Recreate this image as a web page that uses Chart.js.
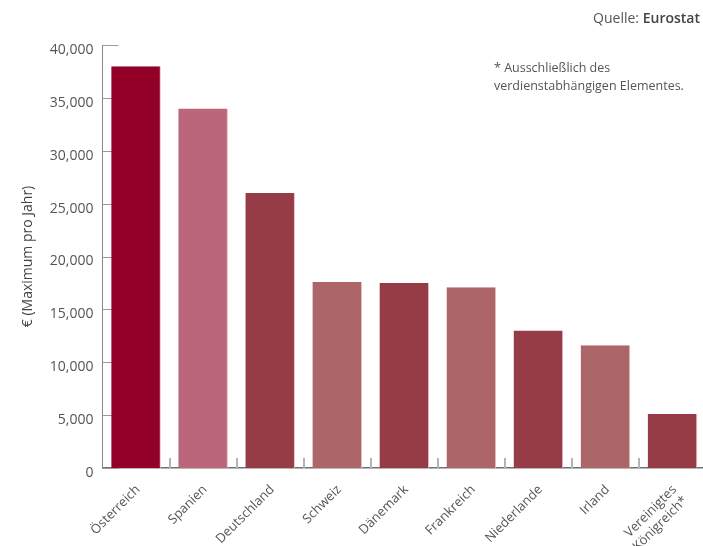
<!DOCTYPE html>
<html lang="de">
<head>
<meta charset="utf-8">
<title>Höchstbeiträge</title>
<script src="https://cdn.jsdelivr.net/npm/chart.js@4"></script>
<style>
    body { margin: 0; background: #fff; overflow: hidden; }
    #wrap { position: relative; width: 703px; height: 546px; overflow: hidden; }
    .source { position: absolute; right: 3px; top: 8px; font: 14px 'Open Sans', sans-serif; color: #555; }
    .source b { color: #444; font-weight: 600; }
    .note { position: absolute; left: 494px; top: 59px; font: 12.5px/18px 'Open Sans', sans-serif; color: #555; }
</style>
</head>
<body>
<div id="wrap">
    <canvas id="chart"></canvas>
    <div class="source">Quelle: <b>Eurostat</b></div>
    <div class="note">* Ausschließlich des<br>verdienstabhängigen Elementes.</div>
</div>
<script>
// Countries and yearly maximum (EUR)
const countries = ['Österreich', 'Spanien', 'Deutschland', 'Schweiz', 'Dänemark',
    'Frankreich', 'Niederlande', 'Irland', ['Vereinigtes', 'Königreich*']];
const maxPerYear = [38000, 34000, 26000, 17600, 17500, 17100, 13000, 11600, 5100];
const barColors = ['#920028', '#bb667a', '#963c46', '#ad6668', '#963c46',
    '#ad6668', '#963c46', '#ad6668', '#963c46'];
const yTicks = [0, 5000, 10000, 15000, 20000, 25000, 30000, 35000, 40000];

Chart.defaults.font.family = "'Open Sans', sans-serif";
Chart.defaults.color = '#555';

// short tick marks drawn inside the plot, under the bars
const innerTicks = {
    id: 'innerTicks',
    beforeDatasetsDraw(chart) {
        const { ctx, scales: { x, y } } = chart;
        ctx.save();
        ctx.strokeStyle = '#9a9a9a';
        ctx.lineWidth = 1;
        y.ticks.forEach((t, i) => {
            const py = Math.round(y.getPixelForTick(i)) + 0.5;
            ctx.beginPath();
            ctx.moveTo(x.left, py);
            ctx.lineTo(x.left + 16, py);
            ctx.stroke();
        });
        ctx.strokeStyle = '#b4b4b4';
        ctx.lineWidth = 2;
        for (let i = 1; i < countries.length; i++) {
            const px = Math.round((x.getPixelForTick(i - 1) + x.getPixelForTick(i)) / 2);
            ctx.beginPath();
            ctx.moveTo(px, y.bottom);
            ctx.lineTo(px, y.bottom - 10);
            ctx.stroke();
        }
        ctx.restore();
    }
};

// the plot runs a few pixels past the visible right edge
const canvas = document.getElementById('chart');
canvas.width = 706;
canvas.height = 546;

new Chart(canvas.getContext('2d'), {
    type: 'bar',
    data: {
        labels: countries,
        datasets: [{
            data: maxPerYear,
            backgroundColor: barColors,
            borderColor: '#e6bcc3',
            borderWidth: { right: 1, left: 0, top: 0, bottom: 0 },
            borderSkipped: false,
            barPercentage: 0.74,
            categoryPercentage: 1
        }]
    },
    options: {
        responsive: false,
        animation: false,
        layout: { padding: { top: 45, right: 0, bottom: 0, left: 0 } },
        plugins: { legend: { display: false }, tooltip: { enabled: false } },
        scales: {
            x: {
                grid: { display: false, drawTicks: false },
                border: { display: true, color: '#707070', width: 1.5 },
                ticks: {
                    font: { size: 13 },
                    color: '#555',
                    minRotation: 45,
                    maxRotation: 45,
                    padding: 14,
                    labelOffset: 2
                },
                afterFit(scale) {
                    scale.height = 78;
                    scale.paddingRight = 0;
                    scale.paddingLeft = 0;
                }
            },
            y: {
                min: 0,
                max: 40000,
                afterBuildTicks(scale) { scale.ticks = yTicks.map(v => ({ value: v })); },
                grid: { display: false, drawTicks: false },
                border: { display: true, color: '#888', width: 1 },
                ticks: {
                    font: { size: 14 },
                    color: '#555',
                    padding: 9,
                    labelOffset: 5,
                    callback: v => v.toLocaleString('en-US')
                },
                title: {
                    display: true,
                    text: '€ (Maximum pro Jahr)',
                    font: { size: 14 },
                    color: '#444',
                    padding: { top: 20, bottom: 0 }
                },
                afterFit(scale) { scale.width = 102.5; }
            }
        }
    },
    plugins: [innerTicks]
});
</script>
</body>
</html>
